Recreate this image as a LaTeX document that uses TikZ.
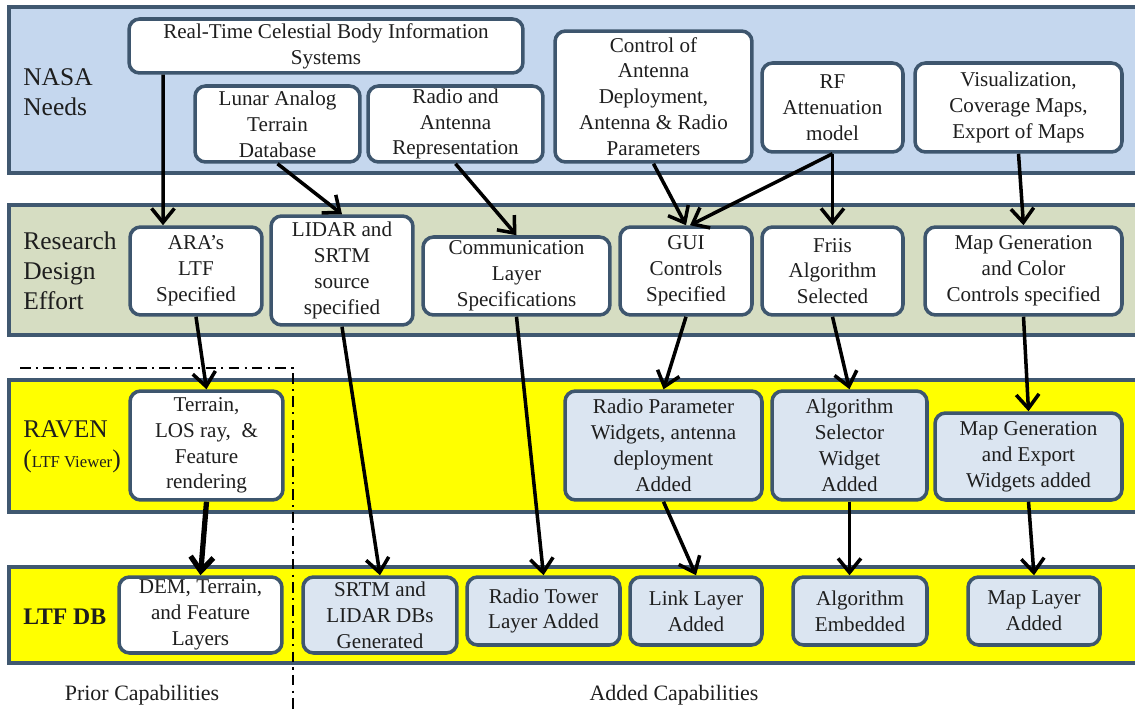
\documentclass[tikz,border=0pt]{standalone}
\usepackage{fontspec}
\setmainfont{Liberation Serif}
\usepackage{tikz}
\usetikzlibrary{arrows.meta, positioning}

\definecolor{needband}{RGB}{197,215,238}
\definecolor{effortband}{RGB}{214,221,194}
\definecolor{ravenband}{RGB}{255,255,0}
\definecolor{bandline}{RGB}{64,88,112}
\definecolor{boxline}{RGB}{62,86,110}
\definecolor{addfill}{RGB}{219,229,241}
\definecolor{labeltext}{RGB}{30,30,30}

\begin{document}
\begin{tikzpicture}[x=0.02cm, y=-0.02cm,
    band/.style={draw=bandline, line width=2.2pt},
    block/.style={rectangle, draw=boxline, line width=2pt, fill=white, rounded corners=6pt, align=center, inner sep=1pt, text=labeltext, font=\fontsize{12}{14.7}\selectfont},
    added/.style={block, fill=addfill},
    rowlabel/.style={anchor=west, align=left, inner sep=0pt, text=labeltext, font=\fontsize{14.5}{17}\selectfont},
    caption/.style={inner sep=0pt, text=labeltext, font=\fontsize{12.5}{15}\selectfont},
    line/.style={draw, -{Straight Barb[length=8pt, width=13pt]}, line width=2pt}]

    \useasboundingbox (0,0) rectangle (1135,709);

    % horizontal bands
    \path[band, fill=needband] (9,7) rectangle (1145,173);
    \path[band, fill=effortband] (9,205) rectangle (1145,335);
    \path[band, fill=ravenband] (9,380) rectangle (1145,512);
    \path[band, fill=ravenband] (9,567) rectangle (1145,663);

    % prior / added divider
    \draw[line width=1.6pt, dash pattern=on 6pt off 3pt on 1.2pt off 3pt] (20,368) -- (293,368) -- (293,709);

    % row labels
    \node[rowlabel] (nasa) at (23,92) {NASA\\Needs};
    \node[rowlabel] (effort) at (23,271) {Research\\Design\\Effort};
    \node[rowlabel] (raven) at (23,447) {RAVEN\\({\fontsize{9.5}{10}\selectfont LTF Viewer})};
    \node[rowlabel, font=\bfseries\fontsize{13.5}{16}\selectfont] (ltfdb) at (23,617) {LTF DB};

    % NASA needs
    \node[block, minimum width=7.88cm, minimum height=1.08cm] (realtime) at (326,46) {Real-Time Celestial Body Information\\Systems};
    \node[block, minimum width=3.30cm, minimum height=1.52cm] (lunar) at (277.5,124) {Lunar Analog\\Terrain\\Database};
    \node[block, minimum width=3.50cm, minimum height=1.52cm] (radio) at (455.5,124) {Radio and\\Antenna\\Representation};
    \node[block, minimum width=3.94cm, minimum height=2.62cm] (control) at (653.5,96.5) {Control of\\Antenna\\Deployment,\\Antenna \& Radio\\Parameters};
    \node[block, minimum width=2.82cm, minimum height=1.78cm] (rf) at (832.5,107.5) {RF\\Attenuation\\model};
    \node[block, minimum width=4.14cm, minimum height=1.78cm] (vis) at (1018.5,107.5) {Visualization,\\Coverage Maps,\\Export of Maps};

    % research design effort
    \node[block, minimum width=2.64cm, minimum height=1.76cm] (ara) at (196,271) {ARA's\\LTF\\Specified};
    \node[block, minimum width=2.84cm, minimum height=2.18cm] (lidar) at (342,270.5) {LIDAR and\\SRTM\\source\\specified};
    \node[block, minimum width=3.74cm, minimum height=1.56cm] (comm) at (516.5,276) {Communication\\Layer\\Specifications};
    \node[block, minimum width=2.64cm, minimum height=1.76cm] (gui) at (686,271) {GUI\\Controls\\Specified};
    \node[block, minimum width=2.82cm, minimum height=1.76cm] (friis) at (832.5,271) {Friis\\Algorithm\\Selected};
    \node[block, minimum width=3.94cm, minimum height=1.76cm] (mapgen) at (1023.5,271) {Map Generation\\and Color\\Controls specified};

    % RAVEN
    \node[block, minimum width=3.06cm, minimum height=2.18cm] (terrain) at (206.5,445.5) {Terrain,\\LOS ray,~ \&\\Feature\\rendering};
    \node[added, minimum width=3.94cm, minimum height=2.18cm] (radiop) at (663.5,445.5) {Radio Parameter\\Widgets, antenna\\deployment\\Added};
    \node[added, minimum width=3.10cm, minimum height=2.18cm] (algsel) at (849.5,445.5) {Algorithm\\Selector\\Widget\\Added};
    \node[added, minimum width=3.74cm, minimum height=1.74cm] (mapexp) at (1028.5,456.5) {Map Generation\\and Export\\Widgets added};

    % LTF DB
    \node[block, minimum width=3.26cm, minimum height=1.52cm] (dem) at (200.5,615) {DEM, Terrain,\\and Feature\\Layers};
    \node[added, minimum width=3.08cm, minimum height=1.52cm] (srtm) at (380,615) {SRTM and\\LIDAR DBs\\Generated};
    \node[added, minimum width=3.06cm, minimum height=1.36cm] (tower) at (543.5,611) {Radio Tower\\Layer Added};
    \node[added, minimum width=2.64cm, minimum height=1.36cm] (link) at (696,611) {Link Layer\\Added};
    \node[added, minimum width=2.68cm, minimum height=1.36cm] (algemb) at (860,611) {Algorithm\\Embedded};
    \node[added, minimum width=2.64cm, minimum height=1.36cm] (maplayer) at (1034,611) {Map Layer\\Added};

    % captions
    \node[caption] (prior) at (142,695) {Prior Capabilities};
    \node[caption] (addedcap) at (674,695) {Added Capabilities};

    % flows
    \path[line] ([xshift=-3.26cm]realtime.south) -- ([xshift=-0.66cm]ara.north);
    \path[line] (lunar.south) -- (lidar.north);
    \path[line] (radio.south) -- (comm.north);
    \path[line] (control.south) -- (gui.north);
    \path[line] (rf.south) -- ([xshift=0.08cm]gui.north);
    \path[line] (rf.south) -- (friis.north);
    \path[line] (vis.south) -- (mapgen.north);
    \path[line] (ara.south) -- (terrain.north);
    \path[line] (lidar.south) -- (srtm.north);
    \path[line] (comm.south) -- (tower.north);
    \path[line] (gui.south) -- (radiop.north);
    \path[line] (friis.south) -- (algsel.north);
    \path[line] (mapgen.south) -- (mapexp.north);
    \path[line, line width=3pt] (terrain.south) -- (dem.north);
    \path[line] (radiop.south) -- (link.north);
    \path[line] (algsel.south) -- (algsel.south |- algemb.north);
    \path[line] (mapexp.south) -- (maplayer.north);
\end{tikzpicture}
\end{document}
